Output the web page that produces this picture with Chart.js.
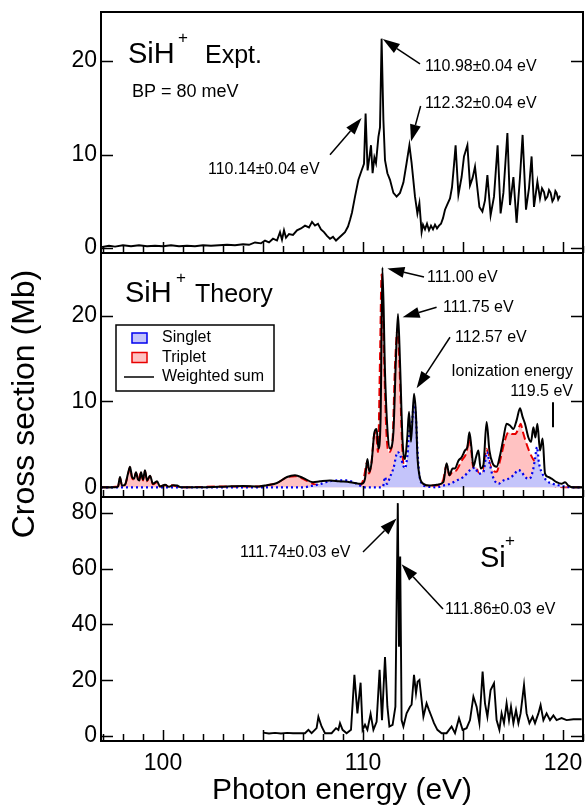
<!DOCTYPE html>
<html>
<head>
<meta charset="utf-8">
<script src="https://cdn.jsdelivr.net/npm/chart.js@4.4.1/dist/chart.umd.min.js"></script>
<style>
	body { margin: 0; background: #fff; }
	#wrap { position: relative; width: 585px; height: 809px; }
	#wrap canvas { position: absolute; left: 0; top: 0; }
</style>
</head>
<body>
<div id="wrap">
	<canvas id="expt-chart" width="585" height="809"></canvas>
	<canvas id="theory-chart" width="585" height="809"></canvas>
	<canvas id="atom-chart" width="585" height="809"></canvas>
</div>
<script>
'use strict';

/*================ Data ================*/

var energyTicks = [100, 110, 120];
var exptTicks = [0, 10, 20];
var theoryTicks = [0, 10, 20];
var atomTicks = [0, 20, 40, 60, 80];

// SiH+ experiment (BP = 80 meV)
var exptEnergy = [96.9, 97.3, 97.6, 98.0, 98.4, 98.8, 99.2, 99.6, 100.0, 100.4, 100.8, 101.2, 101.6, 102.0, 102.4, 102.8, 103.2, 103.6, 104.0, 104.3, 104.6, 104.9, 105.1, 105.3, 105.5, 105.7, 105.85, 105.95, 106.05, 106.15, 106.3, 106.5, 106.7, 106.9, 107.1, 107.3, 107.45, 107.6, 107.75, 107.9, 108.05, 108.2, 108.35, 108.5, 108.65, 108.8, 108.95, 109.1, 109.25, 109.35, 109.45, 109.6, 109.77, 109.93, 110.05, 110.13, 110.23, 110.32, 110.4, 110.48, 110.57, 110.65, 110.77, 110.85, 110.93, 111.02, 111.1, 111.22, 111.35, 111.52, 111.68, 111.85, 112.02, 112.18, 112.32, 112.43, 112.6, 112.72, 112.82, 112.93, 113.0, 113.1, 113.2, 113.3, 113.4, 113.5, 113.6, 113.7, 113.8, 113.9, 114.0, 114.1, 114.2, 114.35, 114.45, 114.55, 114.63, 114.77, 114.93, 115.05, 115.22, 115.35, 115.48, 115.6, 115.82, 115.97, 116.1, 116.22, 116.38, 116.55, 116.73, 116.88, 117.02, 117.22, 117.35, 117.52, 117.68, 117.85, 117.98, 118.15, 118.3, 118.43, 118.55, 118.72, 118.85, 118.95, 119.05, 119.12, 119.22, 119.3, 119.38, 119.47, 119.55, 119.62, 119.68, 119.76, 119.85];
var exptCross = [0.1, 0.25, 0.15, 0.3, 0.2, 0.3, 0.2, 0.25, 0.2, 0.3, 0.2, 0.25, 0.2, 0.3, 0.25, 0.3, 0.35, 0.3, 0.4, 0.35, 0.6, 0.5, 0.8, 0.6, 1.0, 0.8, 1.7, 0.9, 1.9, 1.1, 1.5, 1.4, 1.9, 2.1, 2.4, 2.2, 2.8, 2.4, 2.6, 2.0, 1.7, 1.3, 1.0, 1.2, 0.8, 1.1, 1.4, 1.7, 2.3, 3.0, 3.8, 5.5, 7.3, 8.3, 9.0, 14.4, 8.3, 9.7, 11.0, 8.0, 9.7, 9.1, 11.9, 12.9, 22.4, 13.7, 9.4, 8.0, 7.3, 5.9, 5.5, 5.9, 7.0, 9.1, 11.0, 9.1, 5.5, 3.7, 4.8, 1.7, 2.5, 2.0, 2.6, 1.9, 2.4, 2.0, 2.5, 2.1, 2.4, 2.6, 3.2, 4.1, 4.6, 5.3, 6.5, 8.9, 11.0, 5.7, 7.6, 9.8, 11.0, 6.7, 7.5, 8.7, 4.4, 3.9, 5.1, 7.8, 3.5, 5.5, 11.0, 3.7, 5.9, 12.3, 4.6, 7.6, 2.7, 7.6, 12.1, 4.1, 6.4, 9.8, 4.4, 7.1, 5.3, 6.4, 6.0, 5.2, 5.5, 6.2, 5.9, 5.0, 5.3, 6.1, 5.9, 5.2, 5.6];

// SiH+ theory: weighted sum, singlet and triplet
var sumEnergy = [96.9, 97.6, 97.75, 97.85, 97.95, 98.1, 98.25, 98.35, 98.45, 98.55, 98.65, 98.75, 98.82, 98.9, 99.0, 99.1, 99.2, 99.35, 99.5, 99.7, 99.85, 100.1, 100.3, 100.5, 100.7, 100.9, 102.0, 103.2, 104.0, 104.8, 105.2, 105.7, 106.2, 106.6, 107.0, 107.5, 107.85, 108.35, 108.8, 109.35, 109.93, 110.1, 110.22, 110.32, 110.43, 110.57, 110.68, 110.77, 110.88, 110.97, 111.1, 111.22, 111.35, 111.52, 111.65, 111.75, 111.85, 111.98, 112.1, 112.22, 112.3, 112.4, 112.55, 112.65, 112.72, 112.82, 113.02, 113.35, 113.68, 114.02, 114.18, 114.32, 114.48, 114.6, 114.77, 114.93, 115.1, 115.22, 115.32, 115.42, 115.52, 115.65, 115.77, 115.88, 116.02, 116.18, 116.32, 116.48, 116.68, 116.85, 117.02, 117.18, 117.35, 117.52, 117.68, 117.85, 117.98, 118.1, 118.27, 118.4, 118.52, 118.62, 118.72, 118.85, 118.98, 119.1, 119.27, 119.43, 119.68, 119.93, 120.1, 120.27, 120.52, 121.0];
var sumCross = [0, 0, 0.1, 1.2, 0.2, 0.3, 1.6, 2.4, 1.2, 1.0, 1.75, 0.9, 0.8, 1.75, 0.9, 2.0, 0.8, 1.35, 0.4, 0.7, 0.1, 0.3, 0.05, 0.25, 0.2, 0, 0, 0.1, 0.15, 0.1, 0.25, 0.5, 1.2, 1.4, 1.1, 0.6, 0.7, 0.8, 0.7, 0.6, 0.4, 1.0, 3.3, 1.8, 2.9, 6.4, 6.8, 4.5, 8.0, 25.6, 13.4, 6.8, 4.5, 6.4, 15.3, 20.2, 14.6, 5.3, 3.3, 6.0, 8.8, 5.3, 10.9, 8.4, 3.7, 1.4, 0.4, 0.2, 0.3, 0.6, 2.8, 1.4, 2.2, 2.2, 3.1, 3.5, 4.3, 4.7, 6.4, 4.7, 2.4, 3.5, 4.3, 2.2, 2.6, 7.6, 4.3, 2.8, 2.4, 3.7, 5.7, 7.4, 7.2, 6.8, 7.8, 9.2, 8.2, 7.4, 5.8, 5.3, 7.0, 5.8, 7.4, 4.3, 5.7, 1.6, 1.2, 1.0, 0.6, 0.4, 0.6, 0.2, 0, 0];

var singletEnergy = [96.9, 107.0, 107.5, 107.9, 108.3, 108.7, 109.2, 109.6, 109.85, 110.1, 110.85, 111.0, 111.1, 111.2, 111.35, 111.52, 111.73, 111.87, 112.0, 112.1, 112.22, 112.33, 112.45, 112.55, 112.65, 112.72, 112.8, 112.95, 113.2, 113.7, 114.0, 114.35, 114.68, 115.02, 115.35, 115.6, 115.77, 116.02, 116.2, 116.33, 116.5, 116.77, 117.02, 117.27, 117.52, 117.77, 117.93, 118.1, 118.33, 118.5, 118.6, 118.7, 118.8, 118.97, 119.17, 119.5, 119.85, 120.1, 120.5, 121.0];
var singletCross = [0, 0, 0.2, 0.4, 0.7, 0.8, 0.8, 0.5, 0.2, 0, 0, 0.1, 1.2, 0.4, 1.2, 2.2, 4.1, 3.7, 2.6, 2.2, 3.7, 6.8, 7.6, 9.9, 8.0, 4.5, 1.8, 0.4, 0.1, 0, 0.2, 0.4, 0.8, 1.2, 2.0, 2.3, 1.6, 1.8, 4.1, 2.8, 1.2, 0.4, 0.8, 1.0, 1.4, 2.0, 1.8, 1.2, 1.0, 2.0, 3.3, 4.7, 2.8, 1.6, 0.8, 0.4, 0.2, 0.1, 0, 0];

var tripletEnergy = [96.9, 97.75, 97.85, 97.95, 98.1, 98.25, 98.35, 98.45, 98.55, 98.65, 98.75, 98.9, 99.0, 99.1, 99.2, 99.35, 99.5, 99.7, 99.85, 100.1, 100.5, 100.9, 103.2, 104.8, 105.2, 105.7, 106.2, 106.6, 107.0, 107.5, 108.0, 108.35, 108.8, 109.35, 109.85, 110.05, 110.2, 110.3, 110.42, 110.55, 110.65, 110.75, 110.85, 110.93, 111.05, 111.17, 111.3, 111.47, 111.6, 111.73, 111.83, 111.95, 112.05, 112.2, 112.4, 112.6, 112.75, 113.0, 113.6, 114.0, 114.18, 114.32, 114.48, 114.68, 114.93, 115.18, 115.32, 115.42, 115.52, 115.65, 115.82, 116.0, 116.18, 116.33, 116.5, 116.68, 116.85, 117.1, 117.27, 117.43, 117.6, 117.77, 117.88, 118.0, 118.17, 118.33, 118.5, 118.67, 118.85, 119.0, 119.25, 119.65, 120.2, 121.0];
var tripletCross = [0, 0.1, 1.1, 0.2, 0.3, 1.5, 2.3, 1.1, 0.9, 1.7, 0.8, 1.7, 0.8, 1.9, 0.7, 1.3, 0.35, 0.6, 0.1, 0.25, 0.2, 0, 0.1, 0.1, 0.25, 0.5, 1.15, 1.3, 1.0, 0.4, 0.2, 0.4, 0.35, 0.4, 0.2, 1.2, 2.9, 1.6, 2.8, 6.0, 6.4, 4.1, 15.0, 24.8, 15.3, 6.4, 4.1, 5.3, 14.2, 18.5, 13.8, 5.3, 2.2, 1.8, 1.4, 1.2, 0.6, 0.2, 0.2, 0.8, 2.6, 1.4, 1.8, 2.0, 3.1, 4.1, 5.7, 4.1, 2.2, 2.4, 1.4, 1.6, 4.5, 2.8, 2.0, 1.8, 3.1, 5.5, 6.4, 6.2, 6.2, 6.8, 7.4, 6.4, 5.1, 4.1, 3.3, 2.8, 1.8, 0.8, 0.4, 0.1, 0, 0];

// Si+ experiment
var atomEnergy = [105.0, 105.3, 105.6, 105.9, 106.2, 106.5, 106.8, 107.1, 107.27, 107.43, 107.68, 107.77, 107.85, 107.93, 108.1, 108.43, 108.65, 108.77, 108.85, 108.98, 109.18, 109.4, 109.57, 109.72, 109.88, 109.98, 110.1, 110.22, 110.38, 110.52, 110.68, 110.83, 110.95, 111.1, 111.22, 111.32, 111.48, 111.62, 111.74, 111.8, 111.86, 111.93, 112.02, 112.18, 112.35, 112.43, 112.55, 112.65, 112.73, 112.82, 112.93, 113.02, 113.18, 113.3, 113.43, 113.55, 113.72, 113.93, 114.18, 114.43, 114.6, 114.8, 114.98, 115.18, 115.35, 115.52, 115.68, 115.82, 115.98, 116.1, 116.22, 116.38, 116.55, 116.68, 116.82, 116.93, 117.05, 117.18, 117.3, 117.4, 117.52, 117.65, 117.77, 117.88, 118.05, 118.18, 118.32, 118.48, 118.6, 118.77, 118.88, 119.02, 119.18, 119.35, 119.52, 119.68, 119.93, 120.18, 120.52, 120.93];
var atomCross = [1.2, 0.9, 1.1, 0.9, 1.1, 1.0, 1.0, 1.0, 2.2, 1.0, 2.8, 6.9, 5.1, 3.4, 1.0, 1.0, 2.8, 2.2, 4.6, 2.2, 1.0, 2.2, 21.9, 8.1, 19.1, 2.2, 4.0, 2.2, 7.9, 2.2, 5.1, 23.7, 5.7, 28.3, 10.5, 3.4, 4.0, 10.5, 83.5, 32.0, 64.4, 5.7, 3.4, 8.1, 10.5, 11.2, 21.9, 15.3, 19.5, 20.1, 12.9, 6.9, 11.7, 9.3, 6.9, 4.6, 2.2, 1.0, 1.0, 3.4, 1.0, 6.4, 2.2, 2.8, 5.7, 14.1, 10.5, 4.6, 23.1, 11.7, 6.9, 16.5, 18.9, 5.7, 2.2, 8.1, 4.6, 11.7, 5.7, 10.5, 4.6, 9.3, 4.6, 8.1, 18.3, 8.1, 4.6, 6.9, 4.6, 8.1, 11.1, 5.7, 8.1, 5.7, 7.4, 5.7, 6.4, 5.7, 6.0, 6.0];

/*================ Helpers ================*/

var FONT = "'Liberation Sans', Arial, Helvetica, sans-serif";
var X_MIN = 96.9;
var X_MAX = 121;

function toPoints(xs, ys) {
	return xs.map(function(x, i) {
		return { x: x, y: ys[i] };
	});
}

function drawArrow(ctx, x0, y0, x1, y1) {
	var ang = Math.atan2(y1 - y0, x1 - x0);
	var head = 17;
	var half = 5.5;
	var bx = x1 - head * Math.cos(ang);
	var by = y1 - head * Math.sin(ang);
	ctx.lineWidth = 1.5;
	ctx.beginPath();
	ctx.moveTo(x0, y0);
	ctx.lineTo(bx, by);
	ctx.stroke();
	ctx.beginPath();
	ctx.moveTo(x1, y1);
	ctx.lineTo(bx + half * Math.sin(ang), by - half * Math.cos(ang));
	ctx.lineTo(bx - half * Math.sin(ang), by + half * Math.cos(ang));
	ctx.closePath();
	ctx.fill();
}

// Box with inward ticks on left, right and bottom.
var framePlugin = {
	id: 'frame',
	afterDraw: function(chart) {
		var ctx = chart.ctx;
		var a = chart.chartArea;
		var x = chart.scales.x;
		var y = chart.scales.y;
		ctx.save();
		ctx.strokeStyle = '#000';
		ctx.lineWidth = 2;
		ctx.strokeRect(a.left, a.top, a.right - a.left, a.bottom - a.top);
		ctx.lineWidth = 1.5;
		ctx.beginPath();
		y.ticks.forEach(function(t) {
			var py = Math.round(y.getPixelForValue(t.value)) + 0.5;
			ctx.moveTo(a.left, py);
			ctx.lineTo(a.left + 12, py);
			ctx.moveTo(a.right, py);
			ctx.lineTo(a.right - 12, py);
		});
		for (var e = Math.ceil(X_MIN); e <= X_MAX; e++) {
			var px = Math.round(x.getPixelForValue(e)) + 0.5;
			var len = e % 5 === 0 ? 11 : 7;
			ctx.moveTo(px, a.bottom);
			ctx.lineTo(px, a.bottom - len);
		}
		ctx.stroke();
		ctx.restore();
	}
};

// Labels, arrows and markers placed in data coordinates.
function notesPlugin(items) {
	return {
		id: 'notes',
		afterDatasetsDraw: function(chart) {
			var ctx = chart.ctx;
			var xs = chart.scales.x;
			var ys = chart.scales.y;
			ctx.save();
			ctx.fillStyle = '#000';
			ctx.strokeStyle = '#000';
			items.forEach(function(it) {
				if (it.text !== undefined) {
					ctx.font = it.size + 'px ' + FONT;
					ctx.textAlign = it.align || 'left';
					ctx.textBaseline = it.baseline || 'middle';
					ctx.fillText(it.text, xs.getPixelForValue(it.x), ys.getPixelForValue(it.y));
				} else if (it.arrow) {
					drawArrow(ctx,
						xs.getPixelForValue(it.arrow[0]), ys.getPixelForValue(it.arrow[1]),
						xs.getPixelForValue(it.arrow[2]), ys.getPixelForValue(it.arrow[3]));
				} else if (it.bar) {
					var bx = xs.getPixelForValue(it.bar[0]);
					ctx.lineWidth = 2;
					ctx.beginPath();
					ctx.moveTo(bx, ys.getPixelForValue(it.bar[1]));
					ctx.lineTo(bx, ys.getPixelForValue(it.bar[2]));
					ctx.stroke();
				}
			});
			ctx.restore();
		}
	};
}

// Boxed legend inside the theory panel.
var theoryLegendPlugin = {
	id: 'theoryLegend',
	afterDraw: function(chart) {
		var ctx = chart.ctx;
		var a = chart.chartArea;
		var byLabel = {};
		chart.data.datasets.forEach(function(d) { byLabel[d.label] = d; });
		var left = a.left + 15;
		var top = a.top + 72;
		ctx.save();
		ctx.fillStyle = '#fff';
		ctx.fillRect(left, top, 158, 66);
		ctx.strokeStyle = '#000';
		ctx.lineWidth = 1.5;
		ctx.strokeRect(left, top, 158, 66);
		ctx.font = '16px ' + FONT;
		ctx.textBaseline = 'middle';
		['Singlet', 'Triplet', 'Weighted sum'].forEach(function(name, i) {
			var d = byLabel[name];
			var cy = top + 13 + i * 19.5;
			if (d.fill) {
				ctx.fillStyle = d.backgroundColor;
				ctx.fillRect(left + 16, cy - 5, 15, 10);
				ctx.strokeStyle = d.borderColor;
				ctx.lineWidth = 1.5;
				ctx.strokeRect(left + 16, cy - 5, 15, 10);
			} else {
				ctx.strokeStyle = d.borderColor;
				ctx.lineWidth = 1.5;
				ctx.beginPath();
				ctx.moveTo(left + 8, cy);
				ctx.lineTo(left + 38, cy);
				ctx.stroke();
			}
			ctx.fillStyle = '#000';
			ctx.fillText(name, left + 46, cy);
		});
		// shared y-axis title
		ctx.translate(25, 404);
		ctx.rotate(-Math.PI / 2);
		ctx.textAlign = 'center';
		ctx.font = '32px ' + FONT;
		ctx.fillText('Cross section (Mb)', 0, 0);
		ctx.restore();
	}
};

function panelOptions(cfg) {
	return {
		responsive: false,
		animation: false,
		events: [],
		layout: { padding: { top: cfg.top, bottom: cfg.bottom, left: 0, right: 2 } },
		elements: { point: { radius: 0 } },
		plugins: {
			legend: { display: false },
			tooltip: { enabled: false }
		},
		scales: {
			x: {
				type: 'linear',
				min: X_MIN,
				max: X_MAX,
				display: cfg.showX,
				grid: { display: false, drawTicks: false },
				border: { display: false },
				afterBuildTicks: function(s) {
					s.ticks = energyTicks.map(function(v) { return { value: v }; });
				},
				afterFit: function(s) {
					s.height = cfg.showX ? 68 : 0;
					s.paddingLeft = 0;
					s.paddingRight = 0;
				},
				ticks: {
					color: '#000',
					padding: 9,
					maxRotation: 0,
					autoSkip: false,
					font: { family: FONT, size: 23 },
					callback: function(v) { return String(v); }
				},
				title: {
					display: cfg.showX,
					text: 'Photon energy (eV)',
					color: '#000',
					padding: { top: 0, bottom: 0 },
					font: { family: FONT, size: 30 }
				}
			},
			y: {
				min: cfg.yMin,
				max: cfg.yMax,
				grid: { display: false, drawTicks: false },
				border: { display: false },
				afterBuildTicks: function(s) {
					s.ticks = cfg.ticks.map(function(v) { return { value: v }; });
				},
				afterFit: function(s) {
					s.width = 101;
					s.paddingTop = 0;
					s.paddingBottom = 0;
				},
				ticks: {
					color: '#000',
					padding: 4,
					font: { family: FONT, size: 23 },
					callback: function(v) { return String(v); }
				}
			}
		}
	};
}

/*================ Charts ================*/

// SiH+ experiment
new Chart(document.getElementById('expt-chart'), {
	type: 'line',
	data: {
		datasets: [ {
			label: 'SiH+ Expt.',
			data: toPoints(exptEnergy, exptCross),
			borderColor: '#000',
			borderWidth: 1.9,
			tension: 0,
			fill: false
		} ]
	},
	options: panelOptions({ top: 12, bottom: 556, showX: false, yMin: -0.53, yMax: 25.25, ticks: exptTicks }),
	plugins: [ framePlugin, notesPlugin([
		{ text: 'SiH', x: 98.25, y: 19.8, size: 29, baseline: 'alphabetic' },
		{ text: '+', x: 100.75, y: 21.9, size: 17, baseline: 'alphabetic' },
		{ text: 'Expt.', x: 102.1, y: 19.8, size: 25, baseline: 'alphabetic' },
		{ text: 'BP = 80 meV', x: 98.45, y: 16.2, size: 18, baseline: 'alphabetic' },
		{ text: '110.14±0.04 eV', x: 102.25, y: 8.4, size: 16 },
		{ arrow: [108.35, 9.98, 109.93, 13.9] },
		{ text: '110.98±0.04 eV', x: 113.1, y: 19.4, size: 16 },
		{ arrow: [112.85, 19.7, 110.99, 22.35] },
		{ text: '112.32±0.04 eV', x: 113.1, y: 15.4, size: 16 },
		{ arrow: [112.88, 15.2, 112.4, 11.4] }
	]) ]
});

// SiH+ theory
new Chart(document.getElementById('theory-chart'), {
	type: 'line',
	data: {
		datasets: [ {
			label: 'Weighted sum',
			data: toPoints(sumEnergy, sumCross),
			borderColor: '#000',
			borderWidth: 2,
			cubicInterpolationMode: 'monotone',
			fill: false,
			order: 1
		}, {
			label: 'Singlet',
			data: toPoints(singletEnergy, singletCross),
			borderColor: '#0000EE',
			backgroundColor: '#C4C4FA',
			borderWidth: 2.2,
			borderDash: [2, 3],
			cubicInterpolationMode: 'monotone',
			fill: 'origin',
			order: 2
		}, {
			label: 'Triplet',
			data: toPoints(tripletEnergy, tripletCross),
			borderColor: '#E80000',
			backgroundColor: '#FFC2C2',
			borderWidth: 2,
			borderDash: [8, 4],
			cubicInterpolationMode: 'monotone',
			fill: 'origin',
			order: 3
		} ]
	},
	options: panelOptions({ top: 253, bottom: 312, showX: false, yMin: -1.13, yMax: 27.3, ticks: theoryTicks }),
	plugins: [ framePlugin, theoryLegendPlugin, notesPlugin([
		{ text: 'SiH', x: 98.1, y: 21.6, size: 29, baseline: 'alphabetic' },
		{ text: '+', x: 100.65, y: 23.8, size: 17, baseline: 'alphabetic' },
		{ text: 'Theory', x: 101.6, y: 21.6, size: 25, baseline: 'alphabetic' },
		{ text: '111.00 eV', x: 113.2, y: 24.4, size: 16 },
		{ arrow: [113.05, 24.5, 111.22, 25.5] },
		{ text: '111.75 eV', x: 114.0, y: 20.9, size: 16 },
		{ arrow: [113.68, 20.98, 111.98, 19.81] },
		{ text: '112.57 eV', x: 114.6, y: 17.5, size: 16 },
		{ arrow: [114.35, 17.48, 112.68, 11.54] },
		{ text: 'Ionization energy', x: 120.5, y: 13.44, size: 16, align: 'right' },
		{ text: '119.5 eV', x: 120.5, y: 11.1, size: 16, align: 'right' },
		{ bar: [119.5, 7.0, 9.9] }
	]) ]
});

// Si+ experiment
new Chart(document.getElementById('atom-chart'), {
	type: 'line',
	data: {
		datasets: [ {
			label: 'Si+',
			data: toPoints(atomEnergy, atomCross),
			borderColor: '#000',
			borderWidth: 1.9,
			tension: 0,
			fill: false
		} ]
	},
	options: panelOptions({ top: 497, bottom: 0, showX: true, yMin: -1.8, yMax: 85.7, ticks: atomTicks }),
	plugins: [ framePlugin, notesPlugin([
		{ text: '111.74±0.03 eV', x: 103.85, y: 65.6, size: 16 },
		{ arrow: [110.0, 65.95, 111.68, 78.0] },
		{ text: '111.86±0.03 eV', x: 114.1, y: 45.2, size: 16 },
		{ arrow: [114.0, 45.5, 111.93, 61.6] },
		{ text: 'Si', x: 115.85, y: 60.6, size: 29, baseline: 'alphabetic' },
		{ text: '+', x: 117.1, y: 68.1, size: 17, baseline: 'alphabetic' }
	]) ]
});
</script>
</body>
</html>
